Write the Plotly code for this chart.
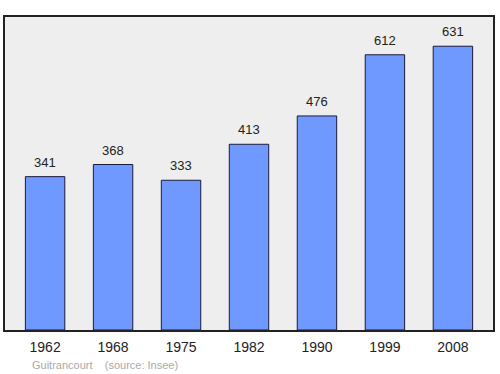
import plotly.graph_objects as go

years = ["1962", "1968", "1975", "1982", "1990", "1999", "2008"]
population = [341, 368, 333, 413, 476, 612, 631]

fig = go.Figure()
fig.add_trace(go.Bar(
    x=list(range(len(years))), y=population,
    width=0.58,
    marker=dict(color="#7099ff", line=dict(color="#1a1a3a", width=1)),
    hoverinfo="skip",
))
for i, v in enumerate(population):
    fig.add_annotation(x=i, y=v, text=str(v), showarrow=False,
                       yanchor="bottom", yshift=5,
                       font=dict(family="Liberation Sans, Arial", size=13, color="#222"))

fig.add_annotation(xref="paper", yref="paper", x=0.052, y=-0.085, xanchor="left", yanchor="top",
                   text="Guitrancourt &nbsp;&nbsp;&nbsp;(source: Insee)", showarrow=False,
                   font=dict(family="Liberation Sans, Arial", size=11, color="#aaaaaa"))

fig.update_layout(
    width=500, height=374,
    margin=dict(l=5, r=5, t=17, b=44),
    paper_bgcolor="white", plot_bgcolor="#eeeeee",
    showlegend=False,
    xaxis=dict(tickmode="array", tickvals=list(range(len(years))), ticktext=years,
               range=[-0.59, 6.59], showgrid=False, zeroline=False, ticks="",
               ticklabelstandoff=3,
               showline=True, linecolor="#222", linewidth=1.5, mirror=True,
               tickfont=dict(family="Liberation Sans, Arial", size=14, color="#222")),
    yaxis=dict(range=[0, 696], showgrid=False, zeroline=False, showticklabels=False,
               ticks="", showline=True, linecolor="#222", linewidth=1.5, mirror=True),
)
fig.write_html("out.html")
